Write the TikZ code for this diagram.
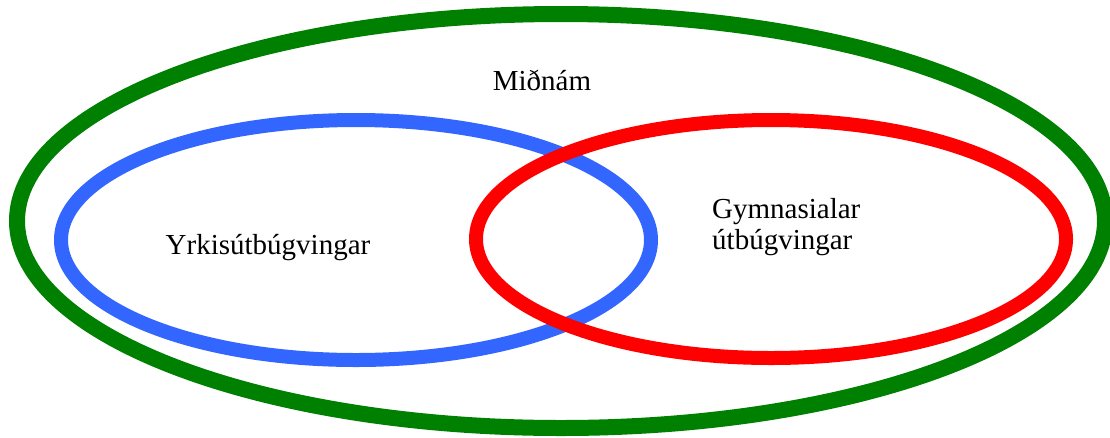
\documentclass[tikz,border=0pt]{standalone}
\usepackage{fontspec}
\setmainfont{Liberation Serif}
\usepackage{xcolor}
\definecolor{ringgreen}{RGB}{0,128,0}
\definecolor{ringblue}{RGB}{51,102,255}
\definecolor{ringred}{RGB}{255,0,0}
\newcommand{\ring}[5] {
    \draw[ring,#5] ({#1}, {#2}) ellipse ({#3} and {#4});
}
\tikzset{
    ring/.style={
        line width=14pt
    },
    label/.style={
        font=\fontsize{29}{31}\selectfont,
        inner sep=0pt
    }
}
\begin{document}
\begin{tikzpicture}[x=1pt,y=-1pt]
        \useasboundingbox (0,0) rectangle (1110,437);
        \ring{561}{221}{544}{207}{ringgreen,line width=16pt}
        \ring{356}{240}{295}{120}{ringblue}
        \ring{771}{239}{295}{119}{ringred}
        \node[label] (midnam) at (542,80) {Miðnám};
        \node[label] (yrkis) at (268,248) {Yrkisútbúgvingar};
        \node[label,align=left,anchor=west] (gymn) at (712,227) {Gymnasialar\\útbúgvingar};
    \end{tikzpicture}
\end{document}
